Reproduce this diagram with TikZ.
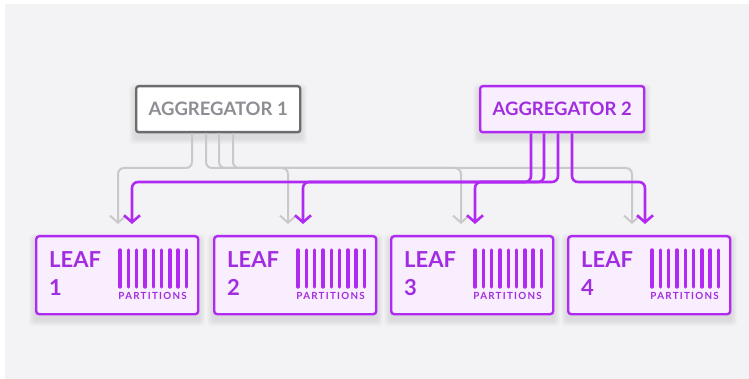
\documentclass[tikz,border=0pt]{standalone}
\usepackage{fontspec}
\setmainfont{Lato}
\usetikzlibrary{arrows.meta,backgrounds}

\definecolor{panel}{HTML}{F3F3F5}
\definecolor{violet}{HTML}{B12AF2}
\definecolor{violettext}{HTML}{A22CE0}
\definecolor{leaffill}{HTML}{F8EEFE}
\definecolor{wire}{HTML}{C9C9CC}
\definecolor{aggborder}{HTML}{6C6C6E}
\definecolor{aggtext}{HTML}{8D8D93}

% soft shadow under a named box
\newcommand\boxshadow[1]{%
  \foreach \s in {1,...,6}{%
    \fill[black,opacity=0.016,rounded corners=4pt]
      ([shift={(-\s,-\s+5)}]#1.north west) rectangle ([shift={(\s,\s+5)}]#1.south east);}}

\begin{document}
\begin{tikzpicture}[x=1pt,y=-1pt,
  aggbox/.style={draw, line width=2.4pt, rounded corners=2.5pt, anchor=north west,
    inner sep=0pt, minimum width=164pt, minimum height=46pt,
    font=\fontsize{18.5}{20}\selectfont\bfseries},
  aggplain/.style={aggbox, draw=aggborder, fill=white, text=aggtext},
  aggviolet/.style={aggbox, draw=violet, fill=leaffill, text=violettext},
  leafbox/.style={draw=violet, fill=leaffill, line width=2.4pt, rounded corners=3pt,
    anchor=north west, inner sep=0pt, minimum width=162pt, minimum height=78pt},
  leaflabel/.style={anchor=base west, inner sep=0pt, text=violettext,
    font=\fontsize{22}{24}\selectfont\bfseries},
  parttext/.style={anchor=base east, inner sep=0pt, text=violettext,
    font=\fontsize{9.8}{10}\selectfont\bfseries\addfontfeature{LetterSpace=13}},
  bar/.style={draw=violet, line width=3.4pt, line cap=round},
  greywire/.style={draw=wire, line width=2pt, rounded corners=6pt,
    -{Straight Barb[length=7pt,width=16pt]}},
  violetwire/.style={draw=violet, line width=2.6pt, rounded corners=6pt,
    -{Straight Barb[length=7pt,width=16pt]}}
]
\useasboundingbox (0,0) rectangle (749,379);

% boxes
\node[aggplain]  (agg1) at (135,85) {AGGREGATOR 1};
\node[aggviolet] (agg2) at (479,85) {AGGREGATOR 2};

\foreach \n/\x in {1/35, 2/213, 3/390, 4/567}{
  \node[leafbox] (leaf\n) at (\x,235) {};
  \node[leaflabel] (leafname\n) at ([shift={(14,33)}]leaf\n.north west) {LEAF};
  \node[leaflabel] (leafnum\n)  at ([shift={(14,60)}]leaf\n.north west) {\n};
  \foreach \i in {0,...,8}
    \draw[bar] ([shift={(85+8.3*\i,15)}]leaf\n.north west) -- ++(0,37);
  \node[parttext] (leafpart\n) at ([shift={(152,64)}]leaf\n.north west) {PARTITIONS};
}

% background panel and shadows
\begin{scope}[on background layer]
  \fill[panel] (5,4) rectangle (749,379);
  \boxshadow{agg1}
  \boxshadow{agg2}
  \foreach \n in {1,...,4}{\boxshadow{leaf\n}}
\end{scope}

% links from aggregator 1
\foreach \n/\a/\b in {1/57/83, 2/71/75, 3/84/71, 4/98/65}
  \draw[greywire] ([xshift=\a pt]agg1.south west)
    |- ([shift={(\b,-67)}]leaf\n.north west) -- ([shift={(\b,-11)}]leaf\n.north west);

% links from aggregator 2
\foreach \n/\a/\b in {1/52/97, 2/65/90, 3/79/85, 4/93/78}
  \draw[violetwire] ([xshift=\a pt]agg2.south west)
    |- ([shift={(\b,-53)}]leaf\n.north west) -- ([shift={(\b,-11)}]leaf\n.north west);
\end{tikzpicture}
\end{document}
